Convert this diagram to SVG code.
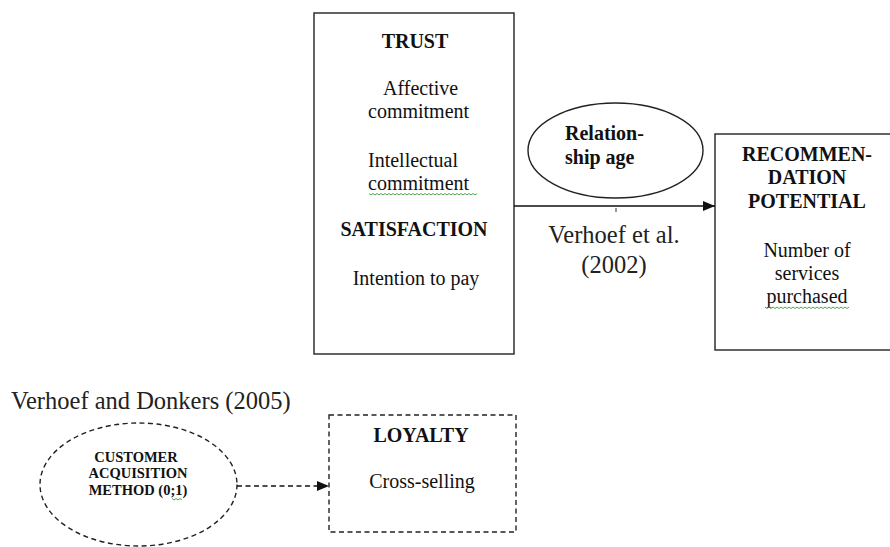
<svg xmlns="http://www.w3.org/2000/svg" width="890" height="547" viewBox="0 0 890 547">
<style>
text{font-family:"Liberation Serif","Times New Roman",serif;fill:#111;}
.r{font-size:20px;}
.b{font-size:20px;font-weight:bold;}
.c{text-anchor:middle;}
.cite{font-size:24.5px;fill:#222;}
.small{font-size:14.5px;font-weight:bold;text-anchor:middle;}
.box{fill:#fff;stroke:#222;stroke-width:1.4;}
.dash{fill:#fff;stroke:#222;stroke-width:1.4;stroke-dasharray:5 3.5;}
.wavy{fill:none;stroke:#3a9a3a;stroke-width:0.9;}
</style>
<defs>
<marker id="ah" viewBox="0 0 12 10" refX="12" refY="5" markerWidth="12" markerHeight="10" markerUnits="userSpaceOnUse" orient="auto">
<path d="M0,0 L12,5 L0,10 Z" fill="#111"/>
</marker>
</defs>
<rect width="890" height="547" fill="#fff"/>

<g id="trust">
<rect class="box" x="314" y="13" width="200" height="341"/>
<text class="b c" x="415" y="48">TRUST</text>
<text class="r" x="383" y="95">Affective</text>
<text class="r" x="368" y="118">commitment</text>
<text class="r" x="368" y="167">Intellectual</text>
<text class="r" x="368" y="190">commitment</text>
<path class="wavy" d="M369,193.5 l2,1.5 l2,-1.5 l2,1.5 l2,-1.5 l2,1.5 l2,-1.5 l2,1.5 l2,-1.5 l2,1.5 l2,-1.5 l2,1.5 l2,-1.5 l2,1.5 l2,-1.5 l2,1.5 l2,-1.5 l2,1.5 l2,-1.5 l2,1.5 l2,-1.5 l2,1.5 l2,-1.5 l2,1.5 l2,-1.5 l2,1.5 l2,-1.5 l2,1.5 l2,-1.5 l2,1.5 l2,-1.5 l2,1.5 l2,-1.5 l2,1.5 l2,-1.5 l2,1.5 l2,-1.5 l2,1.5 l2,-1.5 l2,1.5 l2,-1.5 l2,1.5 l2,-1.5 l2,1.5 l2,-1.5 l2,1.5 l2,-1.5 l2,1.5 l2,-1.5 l2,1.5 l2,-1.5 l2,1.5 l2,-1.5 l2,1.5 l2,-1.5"/>
<text class="b c" x="414" y="236">SATISFACTION</text>
<text class="r c" x="416" y="285">Intention to pay</text>
</g>

<g id="relationship-age">
<ellipse class="box" cx="615.5" cy="150.5" rx="87.5" ry="47.5"/>
<text class="b" x="565" y="140">Relation-</text>
<text class="b" x="565" y="164">ship age</text>
</g>

<g id="recommendation">
<rect class="box" x="715" y="134" width="180" height="216"/>
<text class="b c" x="807" y="161">RECOMMEN-</text>
<text class="b c" x="807" y="184">DATION</text>
<text class="b c" x="807" y="208">POTENTIAL</text>
<text class="r c" x="807" y="257">Number of</text>
<text class="r c" x="807" y="280">services</text>
<text class="r c" x="807" y="303">purchased</text>
<path class="wavy" d="M765,307 l2,1.5 l2,-1.5 l2,1.5 l2,-1.5 l2,1.5 l2,-1.5 l2,1.5 l2,-1.5 l2,1.5 l2,-1.5 l2,1.5 l2,-1.5 l2,1.5 l2,-1.5 l2,1.5 l2,-1.5 l2,1.5 l2,-1.5 l2,1.5 l2,-1.5 l2,1.5 l2,-1.5 l2,1.5 l2,-1.5 l2,1.5 l2,-1.5 l2,1.5 l2,-1.5 l2,1.5 l2,-1.5 l2,1.5 l2,-1.5 l2,1.5 l2,-1.5 l2,1.5 l2,-1.5 l2,1.5 l2,-1.5 l2,1.5 l2,-1.5 l2,1.5 l2,-1.5"/>
</g>

<g id="customer-acquisition">
<ellipse class="dash" cx="138.5" cy="484.5" rx="98.5" ry="61.5"/>
<text class="small" x="136" y="462">CUSTOMER</text>
<text class="small" x="138" y="478">ACQUISITION</text>
<text class="small" x="138" y="495">METHOD (0;1)</text>
<path class="wavy" d="M172,498.5 l2,1.5 l2,-1.5 l2,1.5 l2,-1.5 l2,1.5"/>
</g>

<g id="loyalty">
<rect class="dash" x="329" y="415" width="187" height="117"/>
<text class="b c" x="421" y="442">LOYALTY</text>
<text class="r c" x="422" y="488">Cross-selling</text>
</g>

<g id="connectors">
<line x1="514" y1="206" x2="715" y2="206" stroke="#111" stroke-width="1.5" marker-end="url(#ah)"/>
<line x1="616" y1="208" x2="616" y2="212" stroke="#333" stroke-width="1"/>
<line x1="237" y1="486" x2="329" y2="486" stroke="#111" stroke-width="1.4" stroke-dasharray="5 3.5" marker-end="url(#ah)"/>
</g>

<g id="citations">
<text class="cite c" x="614" y="243">Verhoef et al.</text>
<text class="cite c" x="614" y="273">(2002)</text>
<text class="cite" x="11" y="409">Verhoef and Donkers (2005)</text>
</g>
</svg>
